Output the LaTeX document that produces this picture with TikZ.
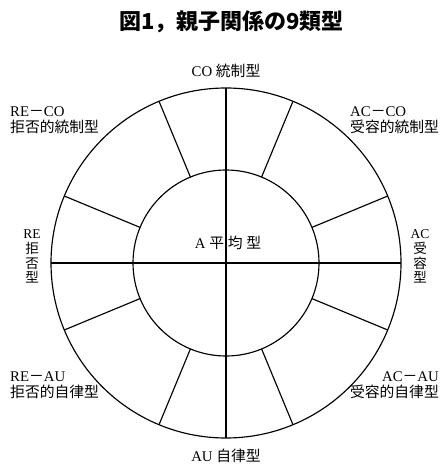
\documentclass[tikz,border=0pt]{standalone}
\usepackage{fontspec}
\setmainfont{Liberation Serif}
\newfontfamily\jp{Noto Sans CJK JP}
\usetikzlibrary{calc}
\newcommand{\dsh}{{\jp －}}
\begin{document}
\begin{tikzpicture}[x=1pt,y=-1pt,
  ring/.style={line width=1.15pt},
  lbl/.style={inner sep=0pt,font=\fontsize{14.8pt}{16pt}\selectfont},
  vlbl/.style={inner sep=0pt,align=center,font=\fontsize{13.5pt}{14.8pt}\selectfont},
  ttl/.style={inner sep=0pt,font=\jp\bfseries\fontsize{22pt}{24pt}\selectfont}]
\useasboundingbox (0,0) rectangle (441,465);
\coordinate (c) at (226,263);
% circles
\draw[ring] (c) circle[radius=175pt];
\draw[ring] (c) circle[radius=93pt];
% full diameters
\draw[ring] ($(c)+(0,-175)$) coordinate (top) -- ($(c)+(0,175)$) coordinate (bot);
\draw[ring] ($(c)+(-175,0)$) coordinate (lft) -- ($(c)+(175,0)$) coordinate (rgt);
% spokes
\foreach \a in {22.5,67.5,112.5,157.5,202.5,247.5,292.5,337.5}
  \draw[ring] ($(c)+(\a:93pt)$) -- ($(c)+(\a:175pt)$);
% title
\node[ttl] (title) at (231.5,22) {図1，親子関係の9類型};
% labels
\node[lbl] (co) at (226,70.5) {CO {\jp 統制型}};
\node[lbl,align=left,anchor=west] (reco) at (10,120) {RE\dsh CO\\{\jp 拒否的統制型}};
\node[lbl,align=left,anchor=west] (acco) at (350,120) {AC\dsh CO\\{\jp 受容的統制型}};
\node[vlbl] (re) at (32,256.5) {RE\\{\jp 拒}\\{\jp 否}\\{\jp 型}};
\node[vlbl] (ac) at (420,256.5) {AC\\{\jp 受}\\{\jp 容}\\{\jp 型}};
\node[lbl] (a) at (228,243) {A {\jp 平} {\jp 均} {\jp 型}};
\node[lbl,align=left,anchor=west] (reau) at (10,385) {RE\dsh AU\\{\jp 拒否的自律型}};
\node[lbl,align=right,anchor=east] (acau) at (439,385) {AC\dsh AU\\{\jp 受容的自律型}};
\node[lbl] (au) at (226,455.5) {AU {\jp 自律型}};
\end{tikzpicture}
\end{document}
